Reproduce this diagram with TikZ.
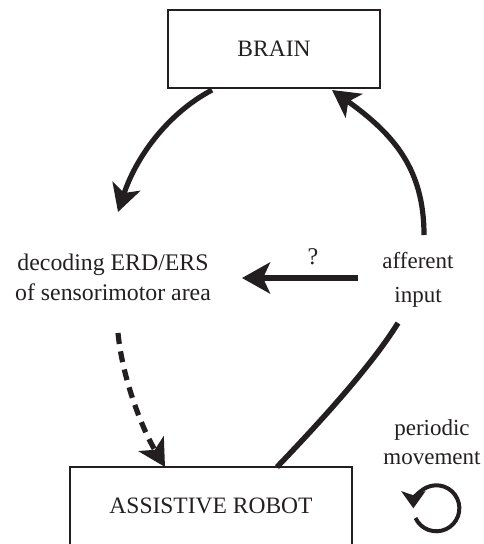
\documentclass[tikz,border=0pt]{standalone}
\usepackage{fontspec}
\setmainfont{Liberation Serif}
\usetikzlibrary{arrows.meta}
\definecolor{ink}{HTML}{231F20}
\tikzset{
  box/.style={draw=ink, text=ink, line width=1.3pt, minimum width=212pt, minimum height=78pt, inner sep=0pt, font=\fontsize{23.5}{27}\selectfont},
  lbl/.style={align=center, text=ink, inner sep=0pt, font=\fontsize{23}{34}\selectfont},
  flow/.style={draw=ink, line width=5.2pt, -{Stealth[length=27pt,width=29pt,inset=7pt]}},
}
\begin{document}
\begin{tikzpicture}[x=1pt,y=-1pt]
\useasboundingbox (0,0) rectangle (483,544);
\node[box] (brain) at (274,49){BRAIN};
\node[box, minimum width=282pt] (robot) at (211,506){ASSISTIVE ROBOT};
\node[lbl, font=\fontsize{23.8}{30}\selectfont] (decoding) at (113,277){decoding ERD/ERS\\of sensorimotor area};
\node[lbl] (afferent) at (418,280){afferent\\input};
\node[lbl, font=\fontsize{23}{29}\selectfont] (periodic) at (432,442){periodic\\movement};
\node[lbl, font=\fontsize{24}{27}\selectfont] (query) at (313,257){?};
\coordinate (brainout) at (212,90);
\coordinate (decin) at (118,212);
\coordinate (affout) at (424,235);
\coordinate (brainin) at (332,90);
\coordinate (affleft) at (358,278);
\coordinate (decright) at (242,278);
\coordinate (decout) at (118,333);
\coordinate (robotin) at (165,467);
\coordinate (robotout) at (277,467);
\coordinate (affbelow) at (398,323);
\draw[flow] (brainout) .. controls (165,115) and (135,160) .. (decin);
\draw[flow] (affout) .. controls (424,170) and (395,135) .. (brainin);
\draw[flow, line width=6pt, -{Stealth[length=28pt,width=31pt,inset=7pt]}] (affleft) -- (decright);
\draw[flow, dash pattern=on 11pt off 7.5pt] (decout) .. controls (122,375) and (140,425) .. (robotin);
\draw[ink, line width=5.5pt] (robotout) .. controls (322,420) and (372,365) .. (affbelow);
\draw[ink, line width=4pt, -{Stealth[length=17pt,width=24pt,inset=4pt]}] (415.5,518) arc[start angle=205, end angle=540, radius=23pt];
\end{tikzpicture}
\end{document}
